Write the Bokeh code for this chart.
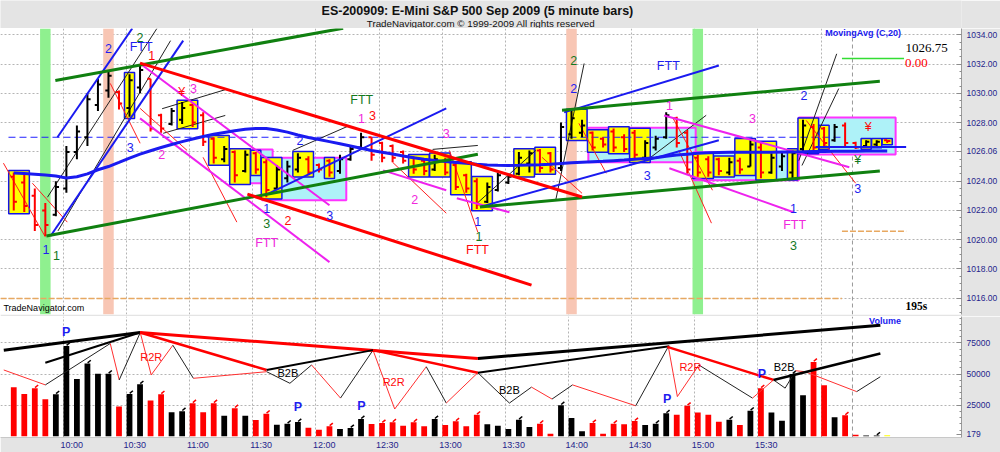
from bokeh.plotting import figure
from bokeh.layouts import column
from bokeh.models import Range1d, FixedTicker, Grid, ColumnDataSource, NumeralTickFormatter
from bokeh.core.properties import value
from bokeh.embed import file_html
from bokeh.resources import INLINE

# ------------------------------------------------------------------ data
opens = [
    1024.3, 1023.9, 1023.0, 1022.0, 1021.7, 1023.5, 1026.0, 1027.0, 1029.2, 1030.2,
    1030.1, 1029.0, 1030.4, 1031.0, 1028.5, 1027.9, 1028.2, 1029.2, 1028.5, 1026.9,
    1025.5, 1026.0, 1024.7, 1025.9, 1025.3, 1023.5, 1024.2, 1024.8, 1025.5, 1025.1,
    1025.4, 1024.7, 1025.5, 1026.3, 1027.0, 1026.6, 1026.4, 1026.0, 1025.6, 1025.4,
    1024.8, 1025.4, 1025.1, 1024.4, 1024.0, 1022.6, 1023.4, 1023.9, 1024.5, 1025.2,
    1026.1, 1025.9, 1024.9, 1027.2, 1027.3, 1027.3, 1026.9, 1027.4, 1027.0, 1027.3,
    1025.6, 1026.3, 1027.0, 1028.3, 1027.3, 1025.6, 1025.5, 1025.5, 1024.6, 1025.4,
    1025.0, 1026.3, 1024.6, 1025.0, 1024.6, 1026.2, 1027.7, 1027.6, 1026.8, 1027.8,
    1026.6, 1026.4, 1026.5, 1026.8]
highs = [
    1024.6, 1024.5, 1023.5, 1022.5, 1024.0, 1026.4, 1027.8, 1030.0, 1031.0, 1031.6,
    1030.2, 1031.3, 1032.0, 1031.0, 1028.6, 1029.0, 1029.4, 1029.3, 1028.7, 1027.0,
    1026.4, 1026.1, 1026.1, 1026.0, 1025.5, 1025.1, 1025.4, 1025.9, 1025.7, 1025.2,
    1025.5, 1025.8, 1026.4, 1027.3, 1027.0, 1026.7, 1026.5, 1026.1, 1025.7, 1025.5,
    1025.8, 1025.6, 1025.2, 1024.5, 1024.2, 1023.9, 1024.6, 1024.5, 1026.0, 1026.1,
    1026.2, 1026.0, 1028.0, 1028.8, 1028.2, 1027.4, 1027.0, 1027.6, 1027.2, 1027.5,
    1026.8, 1027.1, 1028.7, 1028.4, 1027.5, 1025.8, 1025.7, 1025.6, 1025.6, 1025.6,
    1026.8, 1026.6, 1025.9, 1026.0, 1026.1, 1028.2, 1027.9, 1027.7, 1027.9, 1028.0,
    1026.7, 1026.8, 1026.8, 1026.8]
lows = [
    1022.0, 1021.9, 1020.6, 1020.25, 1021.6, 1023.2, 1025.5, 1026.4, 1028.8, 1029.7,
    1028.9, 1028.4, 1030.0, 1027.4, 1027.3, 1027.8, 1027.9, 1027.7, 1026.4, 1025.2,
    1025.3, 1023.9, 1024.6, 1024.5, 1022.9, 1023.4, 1023.9, 1024.6, 1024.4, 1024.6,
    1024.3, 1024.5, 1025.4, 1026.2, 1025.4, 1025.3, 1025.3, 1025.2, 1024.5, 1024.4,
    1024.7, 1024.4, 1023.4, 1023.2, 1022.1, 1022.5, 1023.3, 1023.8, 1024.4, 1024.6,
    1024.6, 1024.6, 1024.7, 1026.9, 1027.0, 1026.1, 1026.3, 1026.0, 1026.0, 1025.5,
    1025.4, 1026.1, 1026.9, 1026.3, 1024.5, 1024.3, 1024.3, 1024.4, 1024.4, 1024.5,
    1025.0, 1024.2, 1024.5, 1024.7, 1024.2, 1026.0, 1026.0, 1026.3, 1026.7, 1026.4,
    1026.2, 1026.3, 1026.4, 1026.6]
closes = [
    1022.6, 1022.3, 1021.0, 1021.0, 1023.6, 1026.0, 1027.4, 1029.6, 1030.6, 1031.2,
    1029.3, 1030.9, 1031.6, 1027.6, 1027.6, 1028.8, 1029.0, 1028.0, 1026.7, 1025.6,
    1026.2, 1024.4, 1025.8, 1024.8, 1023.4, 1024.8, 1025.0, 1025.6, 1024.6, 1024.8,
    1024.6, 1025.5, 1026.2, 1027.0, 1025.8, 1025.6, 1025.6, 1025.4, 1024.8, 1024.7,
    1025.5, 1024.6, 1023.6, 1023.5, 1022.4, 1023.6, 1024.4, 1024.3, 1025.6, 1025.9,
    1024.9, 1024.8, 1027.7, 1028.3, 1027.8, 1026.3, 1026.5, 1026.3, 1026.2, 1025.8,
    1026.6, 1026.9, 1028.5, 1026.6, 1024.8, 1024.6, 1024.6, 1024.7, 1025.3, 1024.8,
    1026.5, 1024.6, 1025.6, 1025.7, 1025.9, 1027.8, 1026.3, 1026.6, 1027.7, 1026.6,
    1026.3, 1026.7, 1026.7, 1026.75]
volumes = [
    39400, 34000, 38600, 29800, 33800, 72600, 46000, 58500, 50300, 50300,
    24000, 34000, 41800, 28700, 33800, 19400, 20200, 26600, 19400, 26600,
    16500, 22600, 16500, 13000, 18100, 9300, 10100, 11400, 6900, 5300,
    8000, 5900, 6600, 13800, 9800, 10600, 11200, 8500, 11200, 8000,
    13800, 9000, 12000, 8000, 17300, 9600, 8500, 5900, 13300, 7400,
    10100, 2100, 25000, 14600, 4000, 10600, 2100, 10100, 9600, 12200,
    9000, 10100, 18400, 17300, 24500, 19100, 17300, 11700, 13300, 9000,
    20500, 38600, 19100, 12500, 50000, 33000, 59800, 41000, 15200, 16800,
    1300, 600, 600, 800]
moving_avg_20 = [
    1024.55, 1024.52, 1024.48, 1024.42, 1024.35, 1024.22, 1024.30, 1024.50, 1024.78, 1025.00,
    1025.28, 1025.58, 1025.85, 1026.08, 1026.30, 1026.50, 1026.70, 1026.88, 1027.05, 1027.20,
    1027.33, 1027.45, 1027.55, 1027.60, 1027.60, 1027.50, 1027.35, 1027.15, 1026.98, 1026.85,
    1026.70, 1026.55, 1026.40, 1026.25, 1026.10, 1025.98, 1025.85, 1025.72, 1025.60, 1025.50,
    1025.42, 1025.35, 1025.28, 1025.22, 1025.15, 1025.10, 1025.08, 1025.07, 1025.08, 1025.10,
    1025.12, 1025.15, 1025.20, 1025.25, 1025.30, 1025.33, 1025.36, 1025.40, 1025.44, 1025.50,
    1025.55, 1025.60, 1025.70, 1025.78, 1025.84, 1025.90, 1025.94, 1025.96, 1025.97, 1025.98,
    1025.98, 1025.98, 1025.98, 1025.99, 1026.00, 1026.01, 1026.02, 1026.03, 1026.04, 1026.05,
    1026.05, 1026.06, 1026.06, 1026.06]

time_labels = ["10:00", "10:30", "11:00", "11:30", "12:00", "12:30",
               "13:00", "13:30", "14:00", "14:30", "15:00", "15:30"]
price_ticks = [1016, 1018, 1020, 1022, 1024, 1026, 1028, 1030, 1032, 1034]
volume_ticks = [25000, 50000, 75000]
last_price = 1026.75
change_text = "0.00"
current_volume = 179
timer_text = "195s"

green_band_bars = [3, 65]
salmon_band_bars = [9, 53]
current_bar = 83
session_end_bar = 79.7
reference_price = 1027.0          # blue dashed horizontal
lower_marker_price = 1015.98      # orange dashed
right_marker_price = 1020.58      # orange dashed (right)
right_green_price = 1032.38

# groups of bars boxed in yellow (first bar, last bar)
yellow_box_groups = [(0, 1), (11, 11), (16, 17), (19, 20), (21, 22), (23, 23), (24, 25),
                     (27, 28), (30, 30), (38, 39), (40, 41), (42, 43), (44, 45), (48, 49),
                     (50, 51), (53, 54), (55, 56), (57, 58), (59, 60), (65, 66), (67, 68),
                     (69, 70), (71, 72), (74, 74), (75, 76), (77, 77), (81, 81), (82, 82),
                     (83, 83)]
# congestion zones (from bar, to bar, top price, bottom price)
cyan_zones = [(20.6, 24.6, 1026.17, 1023.86), (23.6, 31.6, 1025.6, 1022.7),
              (54.6, 64.8, 1027.65, 1025.3), (64.6, 74.6, 1025.97, 1024.06),
              (74.6, 83.8, 1028.35, 1025.83)]

# trend lines on price (bar, price, bar, price)
green_lines = [(3.1, 1020.25, 44.1, 1025.84), (44.3, 1022.24, 82.3, 1024.70),
               (3.95, 1030.88, 31.3, 1034.45), (52.1, 1028.84, 82.3, 1030.83)]
red_lines = [(12.0, 1032.06, 54.0, 1022.92), (22.2, 1023.11, 49.2, 1016.9)]
blue_lines = [(4.15, 1027.0, 11.26, 1034.43), (3.5, 1020.25, 16.1, 1033.6),
              (23.9, 1023.04, 41.1, 1028.97), (44.3, 1022.24, 67.0, 1026.8),
              (52.3, 1028.7, 67.0, 1031.9), (76.2, 1026.33, 84.8, 1026.33)]
magenta_lines = [(12.0, 1032.04, 30.0, 1022.35), (12.0, 1028.29, 30.0, 1018.47),
                 (35.1, 1024.74, 41.1, 1023.38), (42.1, 1022.83, 47.1, 1021.88),
                 (61.8, 1028.49, 79.4, 1024.95), (62.3, 1024.88, 74.1, 1021.88)]
black_thin_lines = [(3.2, 1022.9, 13.6, 1034.43), (4.2, 1020.6, 14.9, 1033.6),
                    (14.1, 1028.95, 20.1, 1030.25), (14.2, 1027.27, 20.1, 1028.49),
                    (26.5, 1026.1, 31.9, 1027.8), (44.0, 1022.47, 49.6, 1026.1),
                    (39.8, 1026.17, 44.1, 1026.44), (51.5, 1022.7, 54.2, 1032.04),
                    (60.4, 1025.56, 65.8, 1028.5), (74.6, 1025.4, 78.2, 1032.7),
                    (74.9, 1025.07, 78.4, 1030.33)]
red_thin_lines = [(-0.98, 1025.23, 3.01, 1020.18), (1.77, 1023.86, 5.09, 1021.2),
                  (9.17, 1030.68, 12.01, 1026.59), (12.01, 1028.97, 16.47, 1026.1),
                  (17.99, 1025.63, 21.2, 1021.2), (36.0, 1025.29, 41.1, 1021.81),
                  (41.4, 1026.1, 44.1, 1020.51), (50.2, 1025.63, 54.0, 1023.17),
                  (62.6, 1028.36, 66.4, 1023.38), (75.3, 1028.15, 80.0, 1023.86),
                  (53.7, 1027.95, 56.3, 1024.54), (63.2, 1026.1, 66.3, 1021.13)]

BLUE, GREEN, PINK, RED = "#1e1ef0", "#14781e", "#f028dc", "#ff0a0a"
price_notes = [
    ("1", 3.07, 1019.3, BLUE), ("1", 4.05, 1018.95, GREEN), ("2", 9.0, 1033.05, BLUE),
    ("FTT", 12.1, 1033.15, BLUE), ("2", 12.0, 1033.84, GREEN), ("1", 13.1, 1032.59, RED),
    ("3", 11.07, 1026.33, BLUE), ("2", 14.07, 1025.83, PINK), ("¥", 15.97, 1030.08, RED),
    ("3", 17.07, 1030.32, PINK), ("2", 27.2, 1026.79, BLUE), ("1", 24.03, 1022.15, BLUE),
    ("3", 24.03, 1021.13, GREEN), ("2", 26.05, 1021.33, RED), ("3", 30.03, 1021.67, BLUE),
    ("FTT", 24.03, 1019.76, PINK), ("FTT", 33.07, 1029.52, GREEN), ("1", 33.04, 1028.29, PINK),
    ("3", 34.08, 1028.5, RED), ("3", 41.1, 1027.25, PINK), ("2", 38.1, 1022.74, PINK),
    ("1", 44.1, 1021.22, BLUE), ("1", 44.2, 1020.24, GREEN), ("FTT", 44.07, 1019.29, RED),
    ("2", 53.2, 1032.25, GREEN), ("2", 53.2, 1030.32, BLUE), ("FTT", 62.2, 1031.9, BLUE),
    ("1", 62.3, 1029.18, PINK), ("3", 60.2, 1024.4, BLUE), ("3", 70.2, 1028.27, PINK),
    ("2", 75.1, 1029.86, BLUE), ("¥", 81.2, 1027.7, RED), ("¥", 80.2, 1025.43, GREEN),
    ("3", 80.2, 1023.5, BLUE), ("1", 74.1, 1022.13, BLUE), ("FTT", 74.2, 1020.99, PINK),
    ("3", 74.1, 1019.62, GREEN)]

# volume panel annotations
vol_trend_lines = [
    (-0.95, 69250, 12.0, 83400, "#000000", 3), (3.0, 59100, 12.0, 83400, "#000000", 2),
    (12.0, 83400, 44.1, 62600, "#ff0000", 3), (12.0, 83400, 24.03, 53300, "#ff0000", 2.5),
    (24.03, 53300, 34.14, 69250, "#000000", 2), (34.14, 69250, 44.1, 51100, "#ff0000", 2.5),
    (44.1, 62600, 82.35, 89200, "#000000", 3), (44.1, 51100, 62.3, 72400, "#000000", 2),
    (62.1, 71900, 72.2, 45300, "#ff0000", 2.5), (72.2, 45300, 82.35, 66600, "#000000", 2.5)]
zigzag_x = [-0.95, 3.0, 9.17, 10.02, 12.02, 13.06, 15.12, 17.07, 24.03, 26.24, 28.3, 31.05,
            34.14, 36.2, 39.2, 41.1, 44.1, 47.1, 49.2, 51.15, 53.1, 59.1, 62.2, 63.06, 65.1,
            70.2, 72.2, 73.3, 74.3, 75.2, 80.1, 82.35]
zigzag_vol = [53300, 41300, 74600, 45300, 83400, 49300, 73200, 46600, 51900, 42600, 57300,
              30700, 69250, 21900, 55900, 26700, 51100, 26700, 39500, 29900, 41300, 24500,
              72100, 31900, 57300, 30700, 45300, 38700, 52700, 51900, 35900, 47900]
zigzag_colors = ["r", "k", "r", "k", "r", "r", "k", "r", "k", "k", "r", "k", "r", "r", "k",
                 "r", "k", "k", "r", "k", "r", "k", "r", "r", "k", "r", "k", "k", "r", "r", "k"]
vol_notes = [("P", 4.97, 83600, BLUE, "bold"), ("R2R", 13.06, 63700, RED, "normal"),
             ("B2B", 26.05, 50900, "#000000", "normal"), ("P", 27.0, 23700, BLUE, "bold"),
             ("P", 33.04, 24500, BLUE, "bold"), ("R2R", 36.1, 43900, RED, "normal"),
             ("B2B", 47.1, 37300, "#000000", "normal"), ("P", 62.1, 30100, BLUE, "bold"),
             ("R2R", 64.3, 55900, RED, "normal"), ("P", 71.1, 50100, BLUE, "bold"),
             ("B2B", 73.2, 55900, "#000000", "normal")]

# ------------------------------------------------------------------ styling
FONT = value("Liberation Sans")
SERIF = value("Liberation Serif")
GRAY = "#e4e4e4"
AXIS_TXT = "#24248c"
W_TOTAL = 1000
AX_W = 37
X0, X1 = -1.26, 90.06
P0, P1 = 1014.89, 1034.43
V0, V1 = -1000, 96300

n = len(closes)
idx = list(range(n))
bar_colors = ["#ff0000" if c < o else "#000000" for o, c in zip(opens, closes)]
vol_colors = list(bar_colors)
vol_colors[current_bar] = "#ffff00"
ma_last = moving_avg_20[-1]

grid_ticks = [4.71 + 6 * k for k in range(13)]
label_ticks = [5.5 + 6 * k for k in range(len(time_labels))]


def seg(lines):
    return dict(x0=[l[0] for l in lines], y0=[l[1] for l in lines],
                x1=[l[2] for l in lines], y1=[l[3] for l in lines])


def style_value_axis(ax):
    ax.major_label_text_font = "Liberation Sans"
    ax.major_label_text_font_size = "8.5px"
    ax.major_label_text_color = AXIS_TXT
    ax.major_label_standoff = 5
    ax.major_tick_in, ax.major_tick_out = 5, 0
    ax.minor_tick_in, ax.minor_tick_out = 2, 0
    ax.major_tick_line_color = ax.minor_tick_line_color = "#8c8c8c"
    ax.axis_line_color = "#9a9a9a"


# ------------------------------------------------------------------ title bar
t = figure(width=W_TOTAL, height=28, x_range=Range1d(0, 1000), y_range=Range1d(0, 28),
           x_axis_location=None, y_axis_location=None, toolbar_location=None,
           output_backend="svg", min_border=0, outline_line_color=None,
           background_fill_color=GRAY, border_fill_color=GRAY)
t.grid.visible = False
t.text(x=[500], y=[18.0], text=["ES-200909:  E-Mini S&P 500 Sep 2009  (5 minute bars)"],
       text_font=FONT, text_font_size="12.5px", text_font_style="bold", text_color="#111111",
       text_align="center", text_baseline="middle")
t.text(x=[500], y=[5.5], text=["TradeNavigator.com © 1999-2009 All rights reserved"],
       text_font=FONT, text_font_size="9.8px", text_color="#111111",
       text_align="center", text_baseline="middle")

# ------------------------------------------------------------------ price panel
p = figure(width=W_TOTAL, height=288, x_range=Range1d(X0, X1), y_range=Range1d(P0, P1),
           x_axis_location=None, y_axis_location="right", toolbar_location=None,
           output_backend="svg", min_border_left=0, min_border_right=AX_W,
           min_border_top=0, min_border_bottom=2, outline_line_color=None,
           background_fill_color="white", border_fill_color=GRAY)
p.grid.visible = False
p.add_layout(Grid(dimension=0, ticker=FixedTicker(ticks=grid_ticks), grid_line_color="#b4b4b4",
                  grid_line_dash="2 2"))
p.add_layout(Grid(dimension=1, ticker=FixedTicker(ticks=price_ticks), grid_line_color="#b4b4b4",
                  grid_line_dash="2 2"))
ya = p.yaxis[0]
# the 1026 label is replaced by the current moving-average value, as in the terminal
ya.ticker = FixedTicker(ticks=[tk for tk in price_ticks if tk != 1026] + [ma_last],
                        minor_ticks=[1015 + 0.5 * k for k in range(40)])
ya.formatter = NumeralTickFormatter(format="0.00")
style_value_axis(ya)

# vertical highlight bands
p.quad(left=[b - 0.5 for b in green_band_bars], right=[b + 0.5 for b in green_band_bars],
       bottom=P0, top=P1, fill_color="#8ff08f", line_color=None)
p.quad(left=[b - 0.5 for b in salmon_band_bars], right=[b + 0.5 for b in salmon_band_bars],
       bottom=P0, top=P1, fill_color="#f8c6b4", line_color=None)
# session end + markers
p.segment(x0=[session_end_bar], y0=[P0], x1=[session_end_bar], y1=[P1],
          line_color="#9a9a9a", line_dash="4 3", line_width=1)
p.segment(x0=[X0], y0=[lower_marker_price], x1=[session_end_bar - 1], y1=[lower_marker_price],
          line_color="#e8a860", line_dash="6 2", line_width=1.5)
p.segment(x0=[session_end_bar - 1], y0=[right_marker_price], x1=[84.8], y1=[right_marker_price],
          line_color="#e8a860", line_dash="6 2", line_width=1.5)
p.segment(x0=[session_end_bar - 1], y0=[right_green_price], x1=[84.6], y1=[right_green_price],
          line_color="#33dd33", line_width=1.5)

# congestion zones and bar boxes
p.quad(left=[z[0] for z in cyan_zones], right=[z[1] for z in cyan_zones],
       top=[z[2] for z in cyan_zones], bottom=[z[3] for z in cyan_zones],
       fill_color="#aef2f8", line_color="#ff33ff", line_width=2)
p.quad(left=[a - 0.48 for a, b in yellow_box_groups],
       right=[b + 0.48 for a, b in yellow_box_groups],
       top=[max(highs[a:b + 1]) + 0.12 for a, b in yellow_box_groups],
       bottom=[min(lows[a:b + 1]) - 0.12 for a, b in yellow_box_groups],
       fill_color="#ffff00", line_color="#1414e6", line_width=1.5)

# reference dashed line
p.segment(x0=[-0.5], y0=[reference_price], x1=[session_end_bar - 1], y1=[reference_price],
          line_color="#2020ff", line_dash="7 4", line_width=1)

# thin lines
p.segment(source=ColumnDataSource(seg(black_thin_lines)), x0="x0", y0="y0", x1="x1", y1="y1",
          line_color="#222222", line_width=1)
p.segment(source=ColumnDataSource(seg(red_thin_lines)), x0="x0", y0="y0", x1="x1", y1="y1",
          line_color="#ff2020", line_width=1)

# OHLC bars
src = ColumnDataSource(dict(x=idx, o=opens, h=highs, l=lows, c=closes, col=bar_colors,
                            xl=[i - 0.3 for i in idx], xr=[i + 0.3 for i in idx]))
p.segment(x0="x", y0="l", x1="x", y1="h", line_color="col", line_width=2, source=src)
p.segment(x0="xl", y0="o", x1="x", y1="o", line_color="col", line_width=2, source=src)
p.segment(x0="x", y0="c", x1="xr", y1="c", line_color="col", line_width=2, source=src)

# medium / thick trend lines
p.segment(source=ColumnDataSource(seg(magenta_lines)), x0="x0", y0="y0", x1="x1", y1="y1",
          line_color="#ee22ee", line_width=2)
p.segment(source=ColumnDataSource(seg(blue_lines)), x0="x0", y0="y0", x1="x1", y1="y1",
          line_color="#1a1af0", line_width=2)
p.line(idx, moving_avg_20, line_color="#1a1af0", line_width=3)
p.segment(source=ColumnDataSource(seg(green_lines)), x0="x0", y0="y0", x1="x1", y1="y1",
          line_color="#108010", line_width=3)
p.segment(source=ColumnDataSource(seg(red_lines)), x0="x0", y0="y0", x1="x1", y1="y1",
          line_color="#ff0000", line_width=3)

# annotations
p.text(source=ColumnDataSource(dict(t=[a[0] for a in price_notes], x=[a[1] for a in price_notes],
                                    y=[a[2] for a in price_notes], c=[a[3] for a in price_notes])),
       x="x", y="y", text="t", text_color="c", text_font=FONT, text_font_size="12.5px",
       text_align="center", text_baseline="middle")
p.text(x=[84.3], y=[1034.09], text=["MovingAvg (C,20)"], text_font=FONT, text_font_size="9px",
       text_font_style="bold", text_color="#1a1af0", text_align="right", text_baseline="middle")
p.text(x=[84.75], y=[1033.07], text=[f"{last_price:.2f}"], text_font=SERIF, text_font_size="13px",
       text_color="#000000", text_align="left", text_baseline="middle")
p.text(x=[84.7], y=[1032.04], text=[change_text], text_font=SERIF, text_font_size="13px",
       text_color="#ff0000", text_align="left", text_baseline="middle")
p.text(x=[84.75], y=[1015.48], text=[timer_text], text_font=SERIF, text_font_size="11.5px",
       text_font_style="bold", text_color="#000000", text_align="left", text_baseline="middle")
p.text(x=[-0.98], y=[1015.3], text=["TradeNavigator.com"], text_font=FONT, text_font_size="9px",
       text_color="#000000", text_align="left", text_baseline="middle")

# ------------------------------------------------------------------ volume panel
v = figure(width=W_TOTAL, height=136, x_range=p.x_range, y_range=Range1d(V0, V1),
           x_axis_location="below", y_axis_location="right", toolbar_location=None,
           output_backend="svg", min_border_left=0, min_border_right=AX_W,
           min_border_top=0, min_border_bottom=14, outline_line_color=None,
           background_fill_color="white", border_fill_color=GRAY)
v.grid.visible = False
v.add_layout(Grid(dimension=0, ticker=FixedTicker(ticks=grid_ticks), grid_line_color="#b4b4b4",
                  grid_line_dash="2 2"))
v.add_layout(Grid(dimension=1, ticker=FixedTicker(ticks=volume_ticks), grid_line_color="#b4b4b4",
                  grid_line_dash="2 2"))
vy = v.yaxis[0]
# the baseline tick shows the volume of the bar in progress
vy.ticker = FixedTicker(ticks=[1800] + volume_ticks, minor_ticks=list(range(5000, 95001, 5000)))
vy.formatter = NumeralTickFormatter(format="0")
vy.major_label_overrides = {1800: str(current_volume)}
style_value_axis(vy)
vx = v.xaxis[0]
vx.ticker = FixedTicker(ticks=label_ticks)
vx.major_label_overrides = {tk: lab for tk, lab in zip(label_ticks, time_labels)}
vx.major_label_text_font = "Liberation Sans"
vx.major_label_text_font_size = "9px"
vx.major_label_text_color = AXIS_TXT
vx.major_label_standoff = 2
vx.major_tick_in = vx.major_tick_out = 0
vx.minor_tick_line_color = None
vx.axis_line_color = "#c8c8c8"

v.segment(x0=[session_end_bar], y0=[V0], x1=[session_end_bar], y1=[V1],
          line_color="#9a9a9a", line_dash="4 3", line_width=1)
v.vbar(x=idx, top=volumes, bottom=0, width=0.55, fill_color=vol_colors, line_color=None)
# small tick on bars whose volume did not fall versus the previous bar
rise = [i for i in idx[1:] if volumes[i] >= volumes[i - 1] and i != current_bar]
v.segment(x0=[i + 0.02 for i in rise], y0=[volumes[i] + 500 for i in rise],
          x1=[i + 0.32 for i in rise], y1=[volumes[i] + 2600 for i in rise],
          line_color=[bar_colors[i] for i in rise], line_width=1.5)

zz_col = {"r": "#ff3030", "k": "#222222"}
v.segment(x0=zigzag_x[:-1], y0=zigzag_vol[:-1], x1=zigzag_x[1:], y1=zigzag_vol[1:],
          line_color=[zz_col[c] for c in zigzag_colors], line_width=1)
v.segment(x0=[l[0] for l in vol_trend_lines], y0=[l[1] for l in vol_trend_lines],
          x1=[l[2] for l in vol_trend_lines], y1=[l[3] for l in vol_trend_lines],
          line_color=[l[4] for l in vol_trend_lines], line_width=[l[5] for l in vol_trend_lines])
for txt, x, y, c, style in vol_notes:
    v.text(x=[x], y=[y], text=[txt], text_color=c, text_font=FONT,
           text_font_size="12.5px" if txt == "P" else "11px", text_font_style=style,
           text_align="center", text_baseline="middle")
v.text(x=[84.3], y=[93000], text=["Volume"], text_font=FONT, text_font_size="9px",
       text_font_style="bold", text_color="#1a1af0", text_align="right", text_baseline="middle")

layout = column(t, p, v, spacing=0)
open("out.html", "w").write(file_html(layout, INLINE))
